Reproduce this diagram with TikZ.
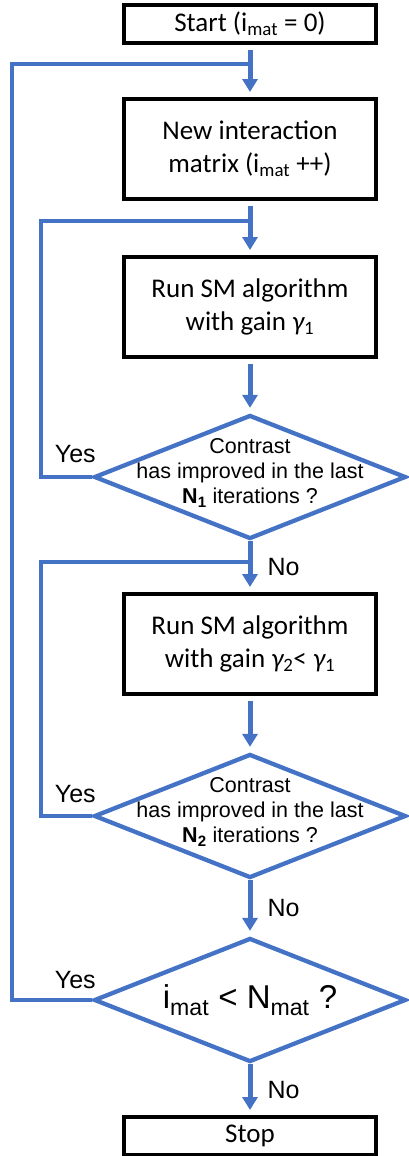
\documentclass[tikz,border=0pt]{standalone}
\usepackage{fontspec}
\setmainfont{Carlito}
\newfontfamily\arialfont{Liberation Sans}
\usetikzlibrary{positioning,shapes.geometric,arrows.meta}
\definecolor{flowblue}{HTML}{4472C4}

\newcommand{\gain}[1]{{\itshape γ}\textsubscript{\upshape #1}}

\tikzset{
    stepbox/.style={draw=black, line width=4pt, rectangle, inner sep=0pt,
        minimum width=252pt, minimum height=#1, align=center,
        font=\fontsize{27}{33}\selectfont},
    stepbox/.default=100pt,
    decision/.style={draw=flowblue, line width=4.3pt, diamond, inner sep=0pt,
        minimum width=312pt, minimum height=124pt},
    dtext/.style={align=center, inner sep=0pt, font=\arialfont\fontsize{21.5}{25}\selectfont},
    lbl/.style={inner sep=0pt, font=\arialfont\fontsize{25}{30}\selectfont},
    line/.style={draw=flowblue, line width=4.3pt},
    flow/.style={line, line width=5pt, -{Triangle[width=15pt,length=13pt]}, shorten >=5pt}
}

\begin{document}
\begin{tikzpicture}[x=1pt, y=1pt, node distance=150pt, >=latex]

    \useasboundingbox (0,0) rectangle (409,-1156);

    \node [stepbox=38pt] (start) at (250,-24) {Start (i\textsubscript{mat} = 0)};
    \node [stepbox, below of = start, node distance=125pt] (new) {New interaction\\matrix (i\textsubscript{mat} ++)};
    \node [stepbox, below of = new, node distance=158pt] (run1) {Run SM algorithm\\with gain \gain{1}};
    \node [decision, below of = run1, node distance=170pt] (dia1) {};
    \node [dtext] (q1) at ([yshift=4pt]dia1) {Contrast\\has improved in the last\\\textbf{N\textsubscript{1}} iterations ?};
    \node [stepbox, below of = dia1, node distance=167pt] (run2) {Run SM algorithm\\with gain \gain{2}< \gain{1}};
    \node [decision, below of = run2, node distance=172pt] (dia2) {};
    \node [dtext] (q2) at ([yshift=4pt]dia2) {Contrast\\has improved in the last\\\textbf{N\textsubscript{2}} iterations ?};
    \node [decision, below of = dia2, node distance=184pt] (dia3) {};
    \node [dtext, font=\arialfont\fontsize{33}{40}\selectfont] (q3) at (dia3) {i\textsubscript{mat} < N\textsubscript{mat} ?};
    \node [stepbox=38pt, below of = dia3, node distance=136pt] (stop) {Stop};

    % joints of the loops
    \coordinate [below of = start, node distance=40pt] (j0);
    \coordinate [below of = new, node distance=72pt] (j1);
    \coordinate [below of = dia1, node distance=85pt] (j2);

    \draw[flow, shorten <=5pt] (start) -- (new);
    \draw[flow, shorten <=5pt] (new) -- (run1);
    \draw[flow, shorten <=5pt] (run1) -- (dia1);
    \draw[flow] (dia1) -- node[lbl, anchor=west, xshift=15pt] (no1) {No} (run2);
    \draw[flow, shorten <=5pt] (run2) -- (dia2);
    \draw[flow] (dia2) -- node[lbl, anchor=west, xshift=15pt] (no2) {No} (dia3);
    \draw[flow] (dia3) -- node[lbl, anchor=west, xshift=15pt] (no3) {No} (stop);

    \draw[line] (dia1.west) -- ++(-51,0) |- (j1);
    \draw[line] (dia2.west) -- ++(-51,0) |- (j2);
    \draw[line] (dia3.west) -- ++(-80,0) |- (j0);

    \node[lbl, anchor=base east] (yes1) at ([shift={(4,15)}]dia1.west) {Yes};
    \node[lbl, anchor=base east] (yes2) at ([shift={(4,14)}]dia2.west) {Yes};
    \node[lbl, anchor=base east] (yes3) at ([shift={(4,12)}]dia3.west) {Yes};
\end{tikzpicture}
\end{document}
